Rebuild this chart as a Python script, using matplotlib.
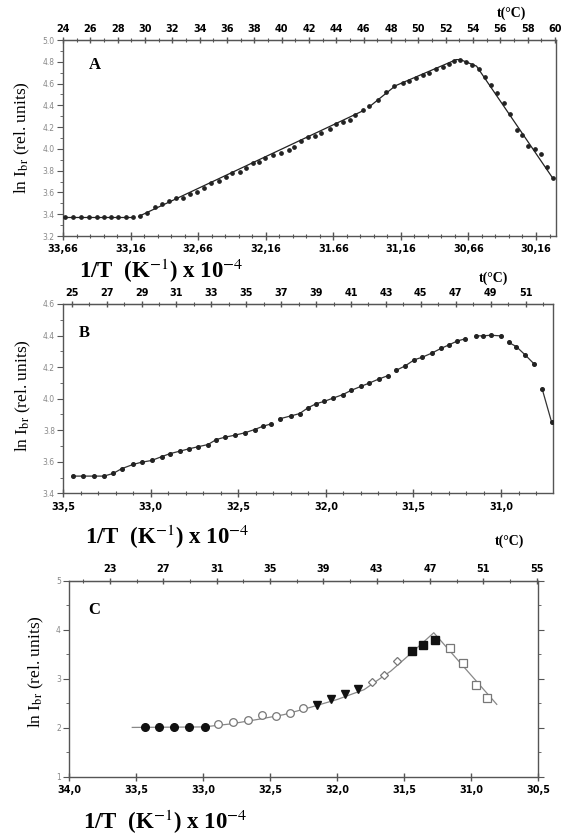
import numpy as np
import matplotlib
matplotlib.use("Agg")
import matplotlib.pyplot as plt
from matplotlib.ticker import FixedLocator, FixedFormatter

plt.rcParams['mathtext.fontset'] = 'stix'
NAN = float('nan')

# ---------------- Panel A ----------------
a_x = [33.645, 33.584, 33.527, 33.468, 33.411, 33.357, 33.305, 33.254, 33.197, 33.141,
       33.091, 33.037, 32.981, 32.927, 32.875, 32.825, 32.772, 32.722, 32.668, 32.616,
       32.562, 32.508, 32.456, 32.407, 32.353, 32.303, 32.255, 32.210, 32.168, 32.107,
       32.045, 31.989, 31.947, 31.897, 31.848, 31.799, 31.749, 31.688, 31.639, 31.590,
       31.540, 31.496, 31.442, 31.393, 31.331, 31.269, 31.208, 31.147, 31.097, 31.048,
       30.999, 30.949, 30.900, 30.851, 30.807, 30.765, 30.723, 30.678, 30.630, 30.585,
       30.538, 30.494, 30.445, 30.396, 30.351, 30.302, 30.260, 30.216, 30.169, 30.120,
       30.076, 30.031]
a_y = [3.37, 3.37, 3.37, 3.37, 3.37, 3.37, 3.37, 3.37, 3.37, 3.37,
       3.384, 3.414, 3.464, 3.494, 3.524, 3.549, 3.552, 3.586, 3.601, 3.638,
       3.684, 3.703, 3.739, 3.776, 3.791, 3.822, 3.868, 3.882, 3.914, 3.944,
       3.965, 3.990, 4.020, 4.075, 4.107, 4.118, 4.149, 4.180, 4.229, 4.250,
       4.265, 4.311, 4.357, 4.394, 4.449, 4.525, 4.578, 4.602, 4.626, 4.648,
       4.679, 4.700, 4.731, 4.755, 4.780, 4.810, 4.816, 4.795, 4.770, 4.731,
       4.663, 4.587, 4.516, 4.419, 4.320, 4.174, 4.128, 4.027, 3.996, 3.953,
       3.837, 3.730]
a_fit_x = [33.66, 33.14, NAN, 33.10, 31.44, NAN, 31.40, 31.20, 30.75, 30.72, 30.60, 30.03]
a_fit_y = [3.37, 3.37, NAN, 3.38, 4.35, NAN, 4.38, 4.58, 4.82, 4.82, 4.76, 3.72]
a_xticks = [33.66, 33.16, 32.66, 32.16, 31.66, 31.16, 30.66, 30.16]
a_xlabels = ["33,66", "33,16", "32,66", "32,16", "31.66", "31,16", "30,66", "30,16"]
a_yticks = [3.2, 3.4, 3.6, 3.8, 4.0, 4.2, 4.4, 4.6, 4.8, 5.0]
a_ylabels = ["3.2", "3.4", "3.6", "3.8", "4.0", "4.2", "4.4", "4.6", "4.8", "5.0"]
a_tticks = [24, 26, 28, 30, 32, 34, 36, 38, 40, 42, 44, 46, 48, 50, 52, 54, 56, 58, 60]

# ---------------- Panel B ----------------
b_x = [33.443, 33.386, 33.323, 33.268, 33.215, 33.167, 33.101, 33.053, 32.996, 32.939,
       32.892, 32.835, 32.782, 32.731, 32.674, 32.626, 32.579, 32.522, 32.465, 32.408,
       32.360, 32.313, 32.265, 32.199, 32.151, 32.104, 32.056, 32.009, 31.958, 31.905,
       31.857, 31.800, 31.752, 31.699, 31.648, 31.600, 31.547, 31.496, 31.449, 31.395,
       31.344, 31.297, 31.249, 31.205, 31.144, 31.103, 31.059, 31.002, 30.955, 30.913,
       30.863, 30.812, 30.765, 30.711]
b_y = [3.509, 3.509, 3.509, 3.509, 3.526, 3.556, 3.583, 3.597, 3.608, 3.632,
       3.651, 3.667, 3.682, 3.695, 3.709, 3.741, 3.755, 3.768, 3.783, 3.804,
       3.825, 3.840, 3.872, 3.891, 3.905, 3.941, 3.968, 3.983, 4.004, 4.025,
       4.052, 4.078, 4.099, 4.124, 4.145, 4.179, 4.208, 4.246, 4.263, 4.289,
       4.318, 4.341, 4.366, 4.379, 4.398, 4.398, 4.402, 4.398, 4.356, 4.330,
       4.278, 4.221, 4.061, 3.850]
b_breaks = [32.29, 31.62, 31.17, 30.98, 30.79]
b_xticks = [33.5, 33.0, 32.5, 32.0, 31.5, 31.0]
b_xlabels = ["33,5", "33,0", "32,5", "32,0", "31,5", "31,0"]
b_yticks = [3.4, 3.6, 3.8, 4.0, 4.2, 4.4, 4.6]
b_ylabels = ["3.4", "3.6", "3.8", "4.0", "4.2", "4.4", "4.6"]
b_tticks = [25, 27, 29, 31, 33, 35, 37, 39, 41, 43, 45, 47, 49, 51]

# ---------------- Panel C ----------------
c_fc_x = [33.435, 33.328, 33.218, 33.104, 32.987]          # filled circles
c_fc_y = [2.01, 2.01, 2.01, 2.01, 2.01]
c_oc_x = [32.888, 32.776, 32.664, 32.564, 32.457, 32.353, 32.254]  # open circles
c_oc_y = [2.08, 2.12, 2.16, 2.26, 2.24, 2.31, 2.41]
c_ft_x = [32.149, 32.049, 31.943, 31.843]                  # filled triangles
c_ft_y = [2.46, 2.58, 2.69, 2.80]
c_od_x = [31.743, 31.651, 31.552]                          # open diamonds
c_od_y = [2.93, 3.08, 3.37]
c_fs_x = [31.445, 31.358, 31.271]                          # filled squares
c_fs_y = [3.57, 3.69, 3.79]
c_os_x = [31.159, 31.064, 30.965, 30.881]                  # open squares
c_os_y = [3.62, 3.33, 2.87, 2.60]
c_fit_x = [33.53, 33.00, 32.80, 32.60, 32.40, 32.20, 32.00, 31.80, 31.60, 31.45, 31.28, 30.81]
c_fit_y = [2.01, 2.02, 2.08, 2.17, 2.27, 2.42, 2.58, 2.78, 3.16, 3.52, 3.94, 2.48]
c_xticks = [34.0, 33.5, 33.0, 32.5, 32.0, 31.5, 31.0, 30.5]
c_xlabels = ["34,0", "33,5", "33,0", "32,5", "32,0", "31,5", "31,0", "30,5"]
c_yticks = [1, 2, 3, 4, 5]
c_ylabels = ["1", "2", "3", "4", "5"]
c_tticks = [23, 27, 31, 35, 39, 43, 47, 51, 55]

W, H = 582, 836
fig = plt.figure(figsize=(W / 100, H / 100), dpi=100)
fig.patch.set_facecolor('white')


def fxy(px, py):
    return px / W, 1 - py / H


def box(l, t, r, b):
    return [l / W, 1 - b / H, (r - l) / W, (b - t) / H]


axA = fig.add_axes(box(63, 40, 556, 236))
axB = fig.add_axes(box(63.3, 304, 552.7, 493.3))
axC = fig.add_axes(box(69.3, 580.7, 538.3, 777))

SPC = '#555555'


def style(ax, xlim, ylim, xt, xl, xminor, yt, yl, yminor):
    ax.set_xlim(*xlim)
    ax.set_ylim(*ylim)
    ax.xaxis.set_major_locator(FixedLocator(xt))
    ax.xaxis.set_major_formatter(FixedFormatter(xl))
    ax.xaxis.set_minor_locator(FixedLocator(xminor))
    ax.yaxis.set_major_locator(FixedLocator(yt))
    ax.yaxis.set_major_formatter(FixedFormatter(yl))
    ax.yaxis.set_minor_locator(FixedLocator(yminor))
    for s in ax.spines.values():
        s.set_color(SPC)
        s.set_linewidth(1.0)
    ax.tick_params(axis='x', which='major', direction='inout', length=6,
                   width=1, color=SPC, pad=3)
    ax.tick_params(axis='x', which='minor', direction='inout', length=3,
                   width=0.8, color=SPC)
    ax.tick_params(axis='y', which='major', direction='out', length=4,
                   width=0.8, color=SPC, labelsize=5.5, labelcolor='#888888', pad=2)
    ax.tick_params(axis='y', which='minor', direction='out', length=2,
                   width=0.6, color=SPC)
    for lab in ax.get_xticklabels():
        lab.set_fontfamily('DejaVu Sans')
        lab.set_fontweight('bold')
        lab.set_fontsize(7)


def top_axis(ax, f, finv, ticks, minor):
    sec = ax.secondary_xaxis('top', functions=(f, finv))
    sec.xaxis.set_major_locator(FixedLocator(ticks))
    sec.xaxis.set_major_formatter(FixedFormatter([str(t) for t in ticks]))
    sec.xaxis.set_minor_locator(FixedLocator(minor))
    sec.tick_params(which='major', direction='inout', length=5, width=1, color=SPC, pad=2)
    sec.tick_params(which='minor', direction='inout', length=3, width=0.8, color=SPC)
    for lab in sec.get_xticklabels():
        lab.set_fontfamily('DejaVu Sans')
        lab.set_fontweight('bold')
        lab.set_fontsize(7)
    sec.spines['top'].set_color(SPC)
    return sec


# ---- A ----
axA.plot(a_fit_x, a_fit_y, color='#222222', lw=0.9, zorder=2)
axA.plot(a_x, a_y, 'o', color='#222222', ms=2.4, zorder=3)
style(axA, (33.66, 30.012), (3.2, 5.0), a_xticks, a_xlabels,
      list(np.arange(30.06, 33.70, 0.1)), a_yticks, a_ylabels,
      list(np.arange(3.3, 5.0, 0.2)))
top_axis(axA, lambda x: 24 + 9.89 * (33.66 - np.asarray(x)),
         lambda t: 33.66 - (np.asarray(t) - 24) / 9.89,
         a_tticks, list(range(24, 61)))

# ---- B ----
bl_x, bl_y = [], []
for i, (x, y) in enumerate(zip(b_x, b_y)):
    if i > 0 and any(b_x[i - 1] > br > x for br in b_breaks):
        bl_x.append(NAN)
        bl_y.append(NAN)
    bl_x.append(x)
    bl_y.append(y)
axB.plot(bl_x, bl_y, color='#333333', lw=0.9, zorder=2)
axB.plot(b_x, b_y, 'o', color='#222222', ms=2.6, zorder=3)
style(axB, (33.5, 30.705), (3.4, 4.6), b_xticks, b_xlabels,
      list(np.arange(30.8, 33.55, 0.1)), b_yticks, b_ylabels,
      list(np.arange(3.5, 4.6, 0.2)))
top_axis(axB, lambda x: 24.52 + 10.03 * (33.5 - np.asarray(x)),
         lambda t: 33.5 - (np.asarray(t) - 24.52) / 10.03,
         b_tticks, list(range(24, 53)))

# ---- C ----
axC.plot(c_fit_x, c_fit_y, color='#888888', lw=0.9, zorder=2)
ms = 5.5
axC.plot(c_fc_x, c_fc_y, 'o', color='#111111', ms=ms, zorder=3)
axC.plot(c_oc_x, c_oc_y, 'o', mfc='white', mec='#777777', mew=0.9, ms=ms, zorder=3)
axC.plot(c_ft_x, c_ft_y, 'v', color='#111111', ms=ms, zorder=3)
axC.plot(c_od_x, c_od_y, 'D', mfc='white', mec='#777777', mew=0.9, ms=ms - 1, zorder=3)
axC.plot(c_fs_x, c_fs_y, 's', color='#111111', ms=ms, zorder=3)
axC.plot(c_os_x, c_os_y, 's', mfc='white', mec='#777777', mew=0.9, ms=ms, zorder=3)
style(axC, (34.0, 30.5), (1, 5), c_xticks, c_xlabels,
      list(np.arange(30.75, 34.0, 0.5)), c_yticks, c_ylabels,
      [1.5, 2.5, 3.5, 4.5])
axC.tick_params(axis='y', which='both', right=True)
axC.tick_params(axis='x', which='minor', length=0)
top_axis(axC, lambda x: 19.95 + 10.05 * (34.0 - np.asarray(x)),
         lambda t: 34.0 - (np.asarray(t) - 19.95) / 10.05,
         c_tticks, list(range(21, 56, 2)))

# ---- texts ----
serif = ['Liberation Serif', 'DejaVu Serif']
ylab = r"ln I$_{\mathrm{br}}$ (rel. units)"
for (px, py) in [(22, 138), (23, 396), (36, 672)]:
    fig.text(*fxy(px, py), ylab, rotation=90, ha='center', va='center',
             family=serif, fontsize=12.5)

xlab = r"1/T  (K$^{-1}$) x 10$^{-4}$"
for (px, py) in [(161, 271), (167, 537), (165, 822)]:
    fig.text(*fxy(px, py), xlab, ha='center', va='center',
             family=serif, fontsize=16.5, fontweight='bold')

for (px, py) in [(512, 13), (494, 278), (510, 541)]:
    fig.text(*fxy(px, py), "t(°C)", ha='center', va='center',
             family=serif, fontsize=10, fontweight='bold')

for (lbl, px, py) in [("A", 95, 65), ("B", 84, 333), ("C", 94, 610)]:
    fig.text(*fxy(px, py), lbl, ha='center', va='center',
             family=serif, fontsize=12, fontweight='bold')

fig.savefig("out.png", dpi=100, facecolor='white')
